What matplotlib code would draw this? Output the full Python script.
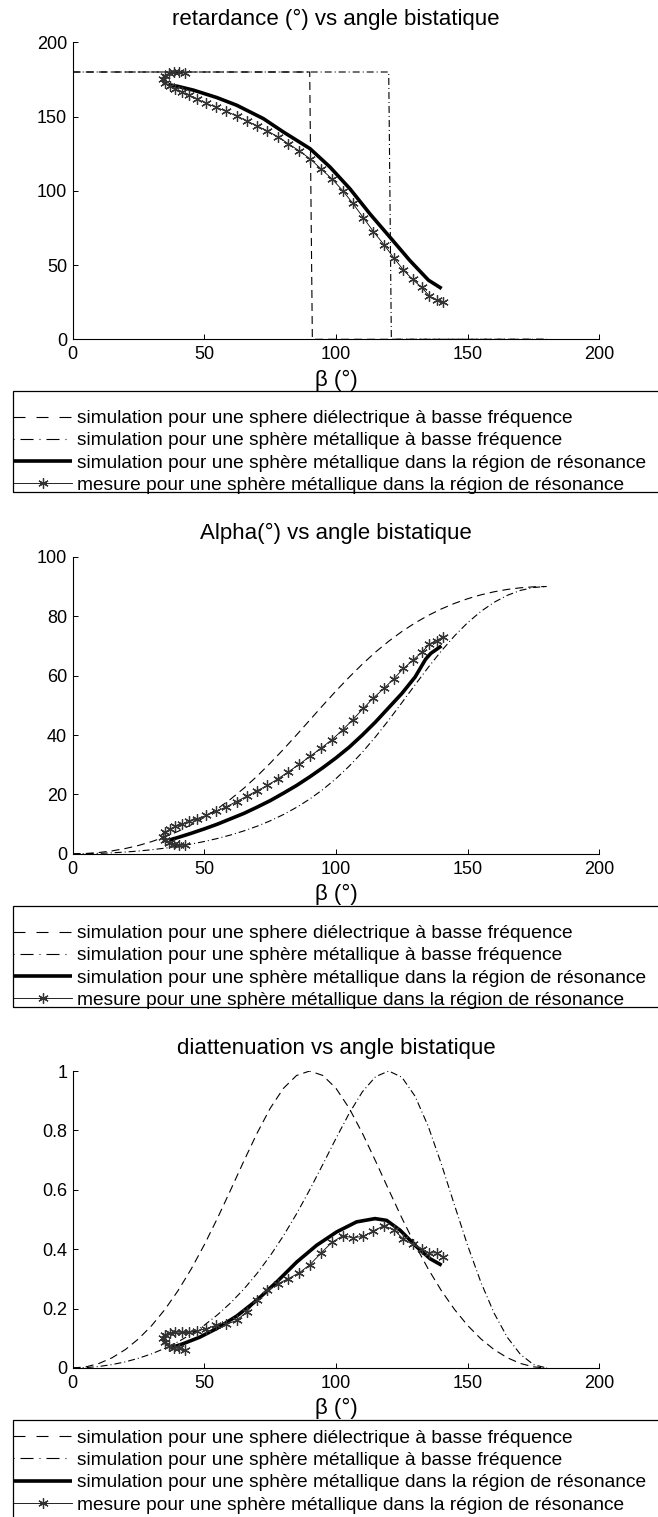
import matplotlib
matplotlib.use('Agg')
import matplotlib.pyplot as plt
from matplotlib.lines import Line2D
from matplotlib.patches import Rectangle

plt.rcParams['font.family'] = ['Liberation Sans', 'DejaVu Sans']
plt.rcParams['font.size'] = 13

# ---- data ----
# low-frequency simulations (bistatic angle grid, degrees)
beta_sim = [0, 5, 10, 15, 20, 25, 30, 35, 40, 45, 50, 55, 60, 65, 70, 75, 80, 85, 90,
            95, 100, 105, 110, 115, 120, 125, 130, 135, 140, 145, 150, 155, 160, 165, 170, 175, 180]

ret_diel_beta = [0, 90, 91, 180]
ret_diel = [180, 180, 0, 0]
ret_metal_beta = [0, 120, 121, 180]
ret_metal = [180, 180, 0, 0]

alpha_diel = [0, 0.11, 0.44, 0.99, 1.78, 2.81, 4.11, 5.68, 7.55, 9.74, 12.27, 15.16, 18.43,
              22.07, 26.13, 30.51, 35.15, 40.02, 45.0, 49.98, 54.85, 59.49, 63.87, 67.93,
              71.57, 74.84, 77.73, 80.26, 82.45, 84.32, 85.89, 87.19, 88.22, 89.01, 89.56,
              89.89, 90.0]
alpha_metal = [0, 0.04, 0.15, 0.33, 0.59, 0.94, 1.37, 1.90, 2.53, 3.27, 4.15, 5.16, 6.34,
               7.71, 9.28, 11.10, 13.21, 15.64, 18.43, 21.65, 25.34, 29.52, 34.21, 39.40,
               45.0, 50.89, 56.88, 62.76, 68.32, 73.39, 77.85, 81.61, 84.67, 87.02, 88.68,
               89.67, 90.0]

diat_diel = [0, 0.0038, 0.0153, 0.0347, 0.0621, 0.0981, 0.1429, 0.1969, 0.2604, 0.3333,
             0.4153, 0.5049, 0.6, 0.6969, 0.7905, 0.8744, 0.9415, 0.9849, 1.0, 0.9849,
             0.9415, 0.8744, 0.7905, 0.6969, 0.6, 0.5049, 0.4153, 0.3333, 0.2604, 0.1969,
             0.1429, 0.0981, 0.0621, 0.0347, 0.0153, 0.0038, 0]
diat_metal = [0, 0.0013, 0.0051, 0.0116, 0.0207, 0.0328, 0.0478, 0.0662, 0.0882, 0.1140,
              0.1442, 0.1792, 0.2195, 0.2657, 0.3184, 0.3780, 0.4449, 0.5191, 0.6, 0.6859,
              0.7735, 0.8575, 0.9299, 0.9809, 1.0, 0.9790, 0.9152, 0.8138, 0.6864, 0.5478,
              0.4117, 0.2886, 0.1850, 0.1037, 0.0459, 0.0114, 0]

# resonance-region simulation
ret_res_beta = [36.3, 40, 45.8, 54.7, 62.3, 72.4, 80.0, 90.1, 97.7, 105.3, 112.9, 120.5,
                128.1, 135.1, 140.1]
ret_res = [171.5, 170.3, 167.8, 162.8, 157.6, 148.6, 139.6, 128.4, 116.0, 101.3, 84.4, 68.7,
           52.9, 39.8, 34.2]

alpha_res_beta = [36.5, 40, 45, 50, 55, 60, 65, 70, 75, 80, 85, 90, 95, 100, 105, 110, 115,
                  120, 125, 130, 134, 136, 140]
alpha_res = [4.6, 5.5, 6.9, 8.4, 10.0, 11.8, 13.6, 15.7, 17.9, 20.4, 23.0, 25.9, 29.0, 32.3,
             35.9, 40.0, 44.4, 49.2, 54.0, 59.5, 65.5, 67.5, 70.0]

diat_res_beta = [37.0, 42.0, 48.3, 54.7, 62.3, 69.9, 77.5, 85.1, 92.6, 100.2, 107.8, 114.8,
                 119.2, 124.3, 130.6, 135.7, 140.1]
diat_res = [0.067, 0.082, 0.104, 0.133, 0.175, 0.228, 0.290, 0.357, 0.413, 0.458, 0.492,
            0.503, 0.497, 0.464, 0.408, 0.368, 0.346]

# measurement
beta_meas = [42.5, 40.5, 38.5, 36.5, 35.0, 34.4, 35.0, 36.8, 39.0, 41.5, 44.3, 47.3, 50.6,
             54.4, 58.3, 62.2, 66.1, 69.9, 73.9, 78.0, 81.9, 86.1, 90.1, 94.2, 98.4, 102.5,
             106.3, 110.4, 114.2, 118.2, 122.0, 125.6, 129.1, 132.5, 135.4, 138.2, 140.5]
ret_meas = [179.5, 179.7, 179.7, 179.0, 177.2, 175.0, 172.7, 170.5, 168.4, 166.4, 164.2,
            161.8, 159.0, 156.3, 153.5, 150.4, 147.1, 143.7, 140.3, 136.3, 131.7, 126.8,
            121.6, 114.9, 108.1, 100.2, 91.7, 81.8, 72.5, 63.7, 54.7, 46.6, 40.3, 34.9,
            29.3, 26.3, 25.0]
alpha_meas = [2.8, 3.0, 3.3, 3.8, 4.7, 5.8, 7.2, 8.3, 9.2, 10.0, 10.9, 11.8, 12.9, 14.3,
              15.8, 17.6, 19.4, 21.2, 23.0, 25.3, 27.6, 30.2, 32.8, 35.5, 38.4, 41.7, 45.1,
              49.0, 52.5, 55.7, 59.0, 62.4, 65.1, 67.8, 70.5, 71.8, 73.0]
diat_meas = [0.062, 0.066, 0.068, 0.075, 0.088, 0.102, 0.112, 0.119, 0.121, 0.120, 0.120,
             0.125, 0.132, 0.144, 0.147, 0.160, 0.189, 0.228, 0.262, 0.284, 0.301, 0.321,
             0.348, 0.386, 0.423, 0.445, 0.439, 0.443, 0.462, 0.479, 0.465, 0.434, 0.416,
             0.400, 0.387, 0.388, 0.375]

titles = ['retardance (°) vs angle bistatique', 'Alpha(°) vs angle bistatique',
          'diattenuation vs angle bistatique']
xticks = [0, 50, 100, 150, 200]
yticks = [[0, 50, 100, 150, 200], [0, 20, 40, 60, 80, 100], [0, 0.2, 0.4, 0.6, 0.8, 1]]
ytick_labels = [['0', '50', '100', '150', '200'], ['0', '20', '40', '60', '80', '100'],
                ['0', '0.2', '0.4', '0.6', '0.8', '1']]
labels = ['simulation pour une sphere diélectrique à basse fréquence',
          'simulation pour une sphère métallique à basse fréquence',
          'simulation pour une sphère métallique dans la région de résonance',
          'mesure pour une sphère métallique dans la région de résonance']

panels = [
    (ret_diel_beta, ret_diel, ret_metal_beta, ret_metal, ret_res_beta, ret_res, ret_meas),
    (beta_sim, alpha_diel, beta_sim, alpha_metal, alpha_res_beta, alpha_res, alpha_meas),
    (beta_sim, diat_diel, beta_sim, diat_metal, diat_res_beta, diat_res, diat_meas),
]

# ---- styles ----
dash = dict(color='k', lw=0.8, ls=(0, (7.2, 4.5)))
dashdot = dict(color='k', lw=0.8, ls=(0, (6.3, 2.7, 0.9, 2.7)))
thick = dict(color='k', lw=2.6, solid_capstyle='butt')
meas = dict(color='k', lw=0.6, marker=(6, 2, 0), ms=7.5, mew=0.9, mec='0.2')

W, H = 658, 1517
fig = plt.figure(figsize=(W / 100, H / 100), dpi=100)


def fx(px):
    return px / W


def fy(py):
    return 1 - py / H


left_px, right_px = 72.7, 599.4
ax_h = 297.0
tops = [42.3, 556.8, 1071.0]
# legend box top and first-row centre (pixels from top)
box_tops = [391.0, 906.0, 1420.0]
row1 = [417.3, 932.3, 1437.0]
leg_fs = 13.8
fs_px = leg_fs * 100 / 72

for i, top in enumerate(tops):
    ax = fig.add_axes([fx(left_px), fy(top + ax_h), fx(right_px - left_px), ax_h / H])
    xd, yd, xm, ym, xr, yr, ymeas = panels[i]
    ax.plot(xd, yd, **dash)
    ax.plot(xm, ym, **dashdot)
    ax.plot(xr, yr, **thick)
    ax.plot(beta_meas, ymeas, **meas)

    ax.set_xlim(0, 200)
    ax.set_ylim(yticks[i][0], yticks[i][-1])
    ax.set_xticks(xticks)
    ax.set_xticklabels([str(t) for t in xticks])
    ax.set_yticks(yticks[i])
    ax.set_yticklabels(ytick_labels[i])
    ax.spines['top'].set_visible(False)
    ax.spines['right'].set_visible(False)
    for s in ('left', 'bottom'):
        ax.spines[s].set_linewidth(0.8)
    ax.tick_params(direction='in', length=3.5, width=0.7, labelsize=13)
    ax.tick_params(axis='x', pad=5)
    ax.tick_params(axis='y', pad=4)
    ax.set_title(titles[i], fontsize=16, pad=12.5)
    ax.set_xlabel('β (°)', fontsize=16, labelpad=4.5)

    # legend below each panel
    handles = [
        Line2D([], [], color='k', lw=0.8, ls=(0, (10.8, 9.9))),
        Line2D([], [], color='k', lw=0.8, ls=(0, (0.9, 5.4, 11.7, 5.4))),
        Line2D([], [], **thick),
        Line2D([], [], **meas),
    ]
    ax.legend(handles, labels, loc='upper left',
              bbox_to_anchor=(fx(13.3), fy(row1[i] - 7.5)),
              bbox_transform=fig.transFigure, frameon=False, borderpad=0,
              borderaxespad=0, handlelength=58.4 / fs_px, handletextpad=5.6 / fs_px,
              labelspacing=0.25, numpoints=1, fontsize=leg_fs)
    fig.add_artist(Rectangle((fx(12.7), fy(box_tops[i] + 100.7)), fx(700), 100.7 / H,
                             transform=fig.transFigure, fill=False, lw=0.9, ec='k'))

fig.savefig('out.png', dpi=100)
